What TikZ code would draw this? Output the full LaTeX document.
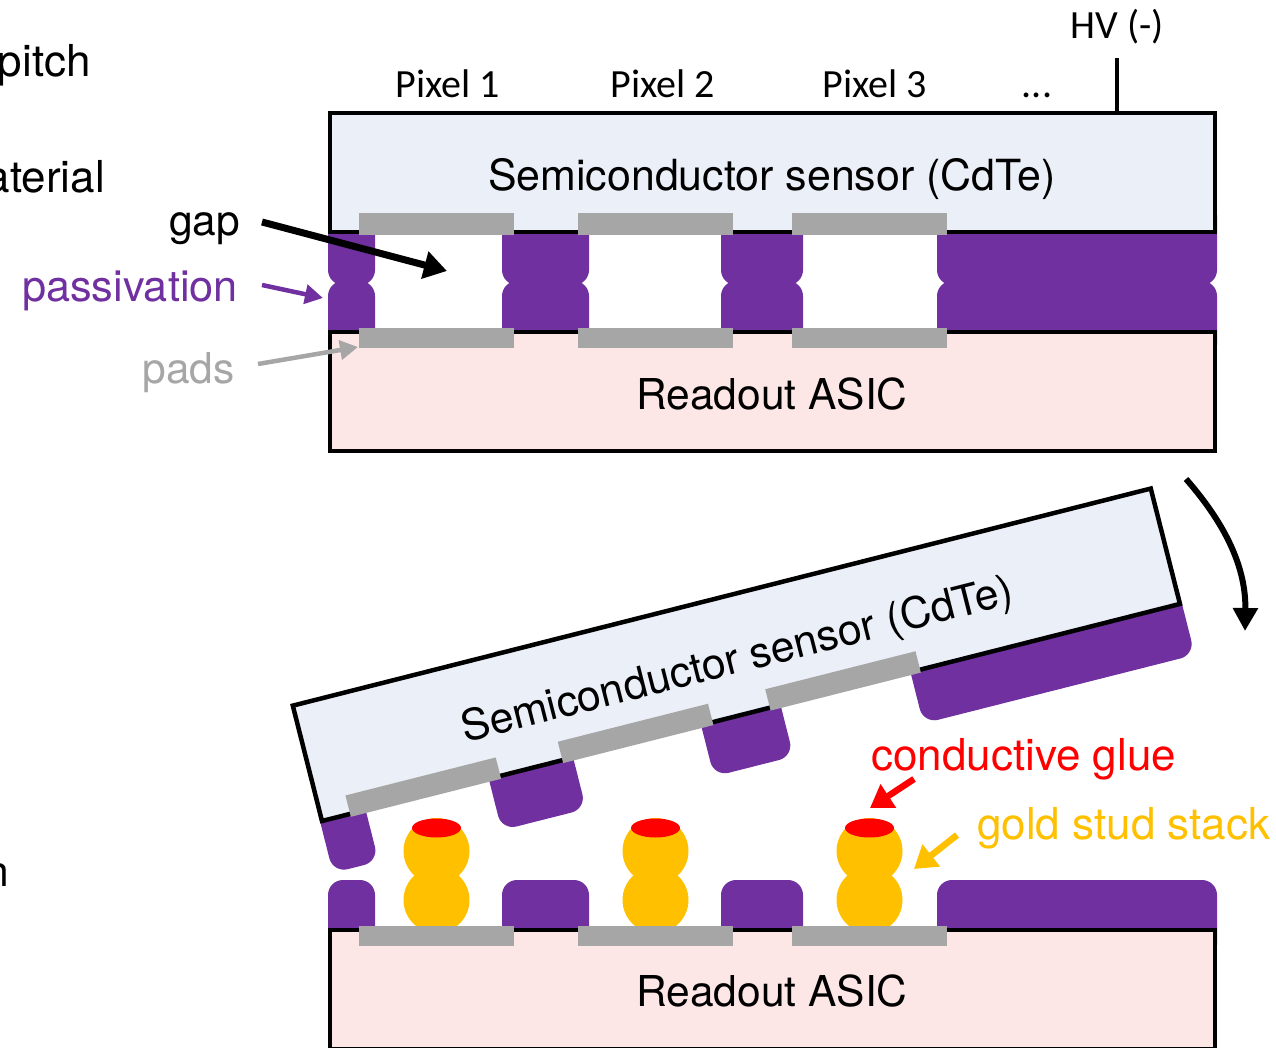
\documentclass[tikz,border=0pt]{standalone}
\usepackage{fontspec}
\setmainfont{TeX Gyre Heros}
\newfontfamily\calfont{Carlito}
\usetikzlibrary{arrows.meta}
\definecolor{sensorfill}{HTML}{EBEFF8}
\definecolor{asicfill}{HTML}{FDE6E6}
\definecolor{passc}{HTML}{7030A0}
\definecolor{padc}{HTML}{A6A6A6}
\definecolor{goldc}{HTML}{FFC000}
\definecolor{gluec}{HTML}{FF0000}

\begin{document}
\begin{tikzpicture}[x=1pt,y=-1pt,
  lbl/.style={font=\fontsize{42.5}{50}\selectfont, inner sep=0pt},
  widelbl/.style={font=\fontsize{44}{52}\selectfont, inner sep=0pt},
  clbl/.style={font=\calfont\fontsize{40}{48}\selectfont, inner sep=0pt},
  frame/.style={line width=4.5pt, draw=black},
  pass/.style={fill=passc, rounded corners=15pt},
  pad/.style={fill=padc},
  stud/.style={fill=goldc},
  glue/.style={fill=gluec},
  bigarrow/.style={line width=7pt, -{Triangle[length=23pt,width=27pt]}},
  smallarrow/.style={line width=4.5pt, -{Triangle[length=18pt,width=19pt]}},
  midarrow/.style={line width=6.5pt, -{Triangle[length=22pt,width=27pt]}}
]
\useasboundingbox (0,0) rectangle (1276,1048);

% ---------- side labels (running off the left edge)
\node[widelbl, anchor=base east] (pitch) at (91,77) {pitch};
\node[widelbl, anchor=base east] (material) at (105,193) {material};
\node[lbl, anchor=base east] (colon) at (4,713) {:};
\node[lbl, anchor=base east] (nchar) at (9,886) {n};

% ---------- bonded assembly
% passivation halves (their outer ends are hidden under the frames)
\foreach \a/\b in {328/375, 502/589, 721/803, 937/1217} {
  \fill[pass] (\a,200) rectangle (\b,285);
  \fill[pass] (\a,281) rectangle (\b,360);
}
\filldraw[frame, fill=sensorfill] (330,113) rectangle (1215,232);
\filldraw[frame, fill=asicfill] (330,332) rectangle (1215,451);
\foreach \a/\b in {359/514, 578/733, 792/947} {
  \fill[pad] (\a,213) rectangle (\b,235);
  \fill[pad] (\a,328) rectangle (\b,348);
}
\node[lbl, font=\fontsize{42.9}{50}\selectfont, anchor=base] (sensorlbl) at (772,191) {Semiconductor sensor (CdTe)};
\node[lbl, anchor=base] (asiclbl) at (772,409) {Readout ASIC};

% pixel labels and bias contact
\node[clbl, anchor=base] (px1) at (448,98) {Pixel 1};
\node[clbl, anchor=base] (px2) at (663,98) {Pixel 2};
\node[clbl, anchor=base] (px3) at (875,98) {Pixel 3};
\node[clbl, anchor=base] (pxdots) at (1037,98) {...};
\node[clbl, anchor=base] (hv) at (1117,39) {HV (-)};
\coordinate (hvtop) at (1117,58);
\coordinate (hvbot) at (1117,113);
\draw[line width=4.5pt] (hvtop) -- (hvbot);

% callouts
\node[lbl, anchor=base east] (gaplbl) at (240,236) {gap};
\node[lbl, font=\fontsize{43.3}{50}\selectfont, anchor=base east, text=passc] (passlbl) at (238,302) {passivation};
\node[lbl, anchor=base east, text=padc] (padslbl) at (235,383) {pads};
\coordinate (gapfrom) at (262,222);
\coordinate (gapto) at (447,271);
\coordinate (passfrom) at (262,285);
\coordinate (passto) at (323,298);
\coordinate (padsfrom) at (258,364);
\coordinate (padsto) at (358,347);
\draw[bigarrow] (gapfrom) -- (gapto);
\draw[smallarrow, draw=passc, fill=passc] (passfrom) -- (passto);
\draw[smallarrow, draw=padc, fill=padc] (padsfrom) -- (padsto);

% ---------- flip-chip step: tilted sensor
\begin{scope}[shift={(322,821)}, rotate=14.2]
  \foreach \a/\b in {-2/45, 172/259, 391/473, 607/887} {
    \fill[pass] (\a,-32) rectangle (\b,53);
  }
  \filldraw[frame, fill=sensorfill] (0,-119) rectangle (885,0);
  \foreach \a/\b in {29/184, 248/403, 462/617} {
    \fill[pad] (\a,-19) rectangle (\b,3);
  }
  \node[lbl, font=\fontsize{42.9}{50}\selectfont, anchor=base, transform shape] (sensorlbl2) at (442,-41) {Semiconductor sensor (CdTe)};
\end{scope}

% rotation arrow
\coordinate (flipfrom) at (1186,479);
\coordinate (flipto) at (1245,631);
\draw[line width=6pt, -{Triangle[length=23pt,width=24pt]}] (flipfrom) .. controls (1228,527) and (1246,570) .. (flipto);

% ---------- readout chip with gold stud stacks
\foreach \x in {436.5, 655.5, 869.5} {
  \fill[stud] (\x,900) circle[radius=33pt];
  \fill[stud] (\x,851) circle[radius=33pt];
  \fill[glue] (\x,828) ellipse[x radius=24.5pt, y radius=9.5pt];
}
\foreach \a/\b in {328/375, 502/589, 721/803, 937/1217} {
  \fill[pass] (\a,880) rectangle (\b,960);
}
\filldraw[frame, fill=asicfill] (330,930) rectangle (1215,1049);
\foreach \a/\b in {359/514, 578/733, 792/947} {
  \fill[pad] (\a,926) rectangle (\b,946);
}
\node[lbl, anchor=base] (asiclbl2) at (772,1006) {Readout ASIC};

\node[widelbl, anchor=base west, text=gluec] (gluelbl) at (871,770) {conductive glue};
\node[widelbl, anchor=base west, text=goldc] (goldlbl) at (977,839) {gold stud stack};
\coordinate (gluefrom) at (914,779);
\coordinate (glueto) at (870,808);
\coordinate (goldfrom) at (957,835);
\coordinate (goldto) at (914,869);
\draw[midarrow, draw=gluec, fill=gluec] (gluefrom) -- (glueto);
\draw[midarrow, draw=goldc, fill=goldc] (goldfrom) -- (goldto);
\end{tikzpicture}
\end{document}
